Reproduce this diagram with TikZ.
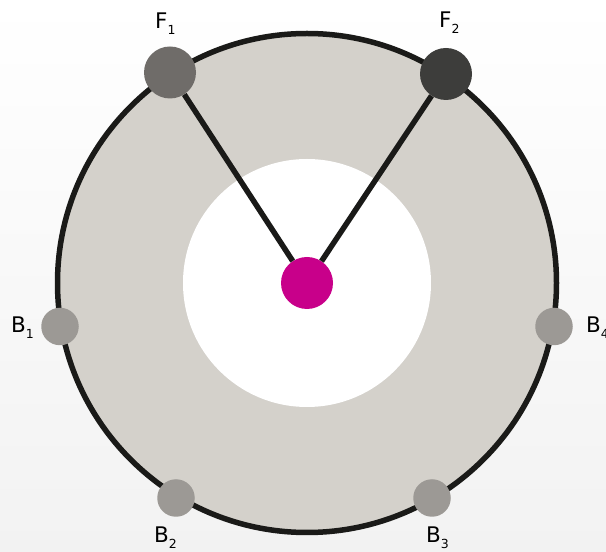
\documentclass[tikz,border=0pt]{standalone}
\usepackage{fontspec}
\setmainfont{DejaVu Sans}
\definecolor{ringfill}{HTML}{D4D1CB}
\definecolor{ringline}{HTML}{1A1A18}
\definecolor{fonecol}{HTML}{6F6C69}
\definecolor{ftwocol}{HTML}{3D3D3B}
\definecolor{bcol}{HTML}{9C9995}
\definecolor{magent}{HTML}{C8008A}
\definecolor{bgbottom}{HTML}{F2F2F2}
\newcommand{\lbl}[2]{#1\raisebox{-6pt}{\fontsize{12.5}{12.5}\selectfont #2}}
\tikzset{
  fnode/.style={circle, inner sep=0pt, minimum size=52pt},
  bnode/.style={circle, inner sep=0pt, minimum size=37.5pt, fill=bcol},
  conn/.style={draw=ringline, line width=5.5pt},
  lab/.style={anchor=base west, inner sep=0pt, font=\fontsize{21.5}{21.5}\selectfont}
}
\begin{document}
\begin{tikzpicture}[x=1pt,y=1pt]
\useasboundingbox (0,0) rectangle (606,552);
\shade[top color=white, middle color=white, bottom color=bgbottom] (0,0) rectangle (606,552);
\coordinate (C) at (307,269);
\draw[draw=ringline, line width=5.5pt, fill=ringfill] (C) circle (249.5);
\fill[white] (C) circle (124);
\node[fnode, fill=magent] (M) at (C) {};
\node[fnode, fill=fonecol] (F1) at (170,479.5) {};
\node[fnode, fill=ftwocol] (F2) at (446,478) {};
\node[bnode] (B1) at (60,225.5) {};
\node[bnode] (B2) at (176,54) {};
\node[bnode] (B3) at (432,54) {};
\node[bnode] (B4) at (554,225.5) {};
\draw[conn] (F1) -- (M);
\draw[conn] (F2) -- (M);
\node[lab] (LF1) at (155,523) {\lbl{F}{1}};
\node[lab] (LF2) at (439,524) {\lbl{F}{2}};
\node[lab] (LB1) at (11,219) {\lbl{B}{1}};
\node[lab] (LB4) at (586,219) {\lbl{B}{4}};
\node[lab] (LB2) at (154,9) {\lbl{B}{2}};
\node[lab] (LB3) at (426,9) {\lbl{B}{3}};
\end{tikzpicture}
\end{document}
